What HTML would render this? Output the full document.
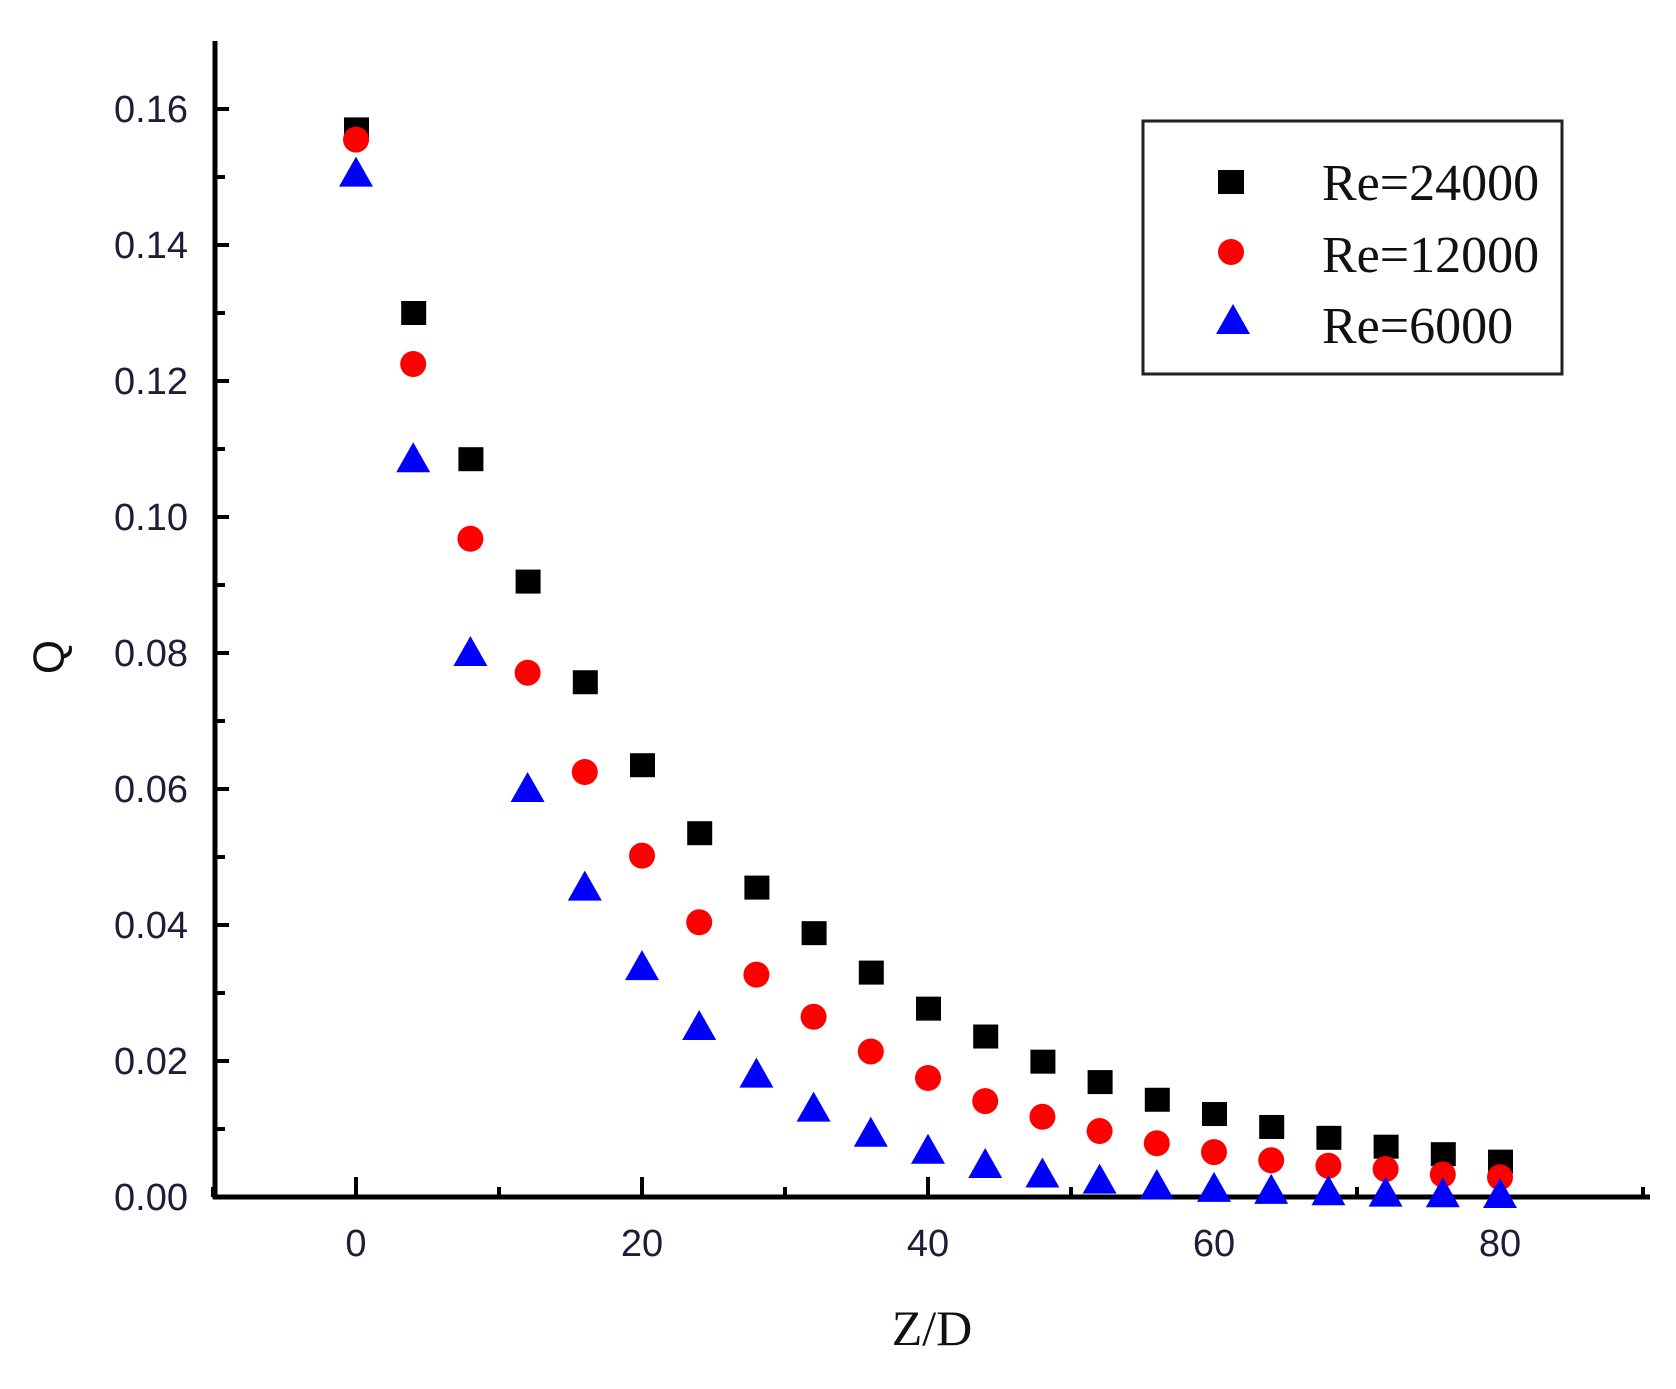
<!DOCTYPE html><html><head><style>body{margin:0;background:#fff}</style></head><body>
<svg width="1676" height="1384" xmlns="http://www.w3.org/2000/svg">
<g stroke="#000" stroke-width="5" fill="none">
<line x1="215" y1="41" x2="215" y2="1199"/>
<line x1="213" y1="1197" x2="1650" y2="1197"/>
</g>
<g id="ticks" stroke="#000" stroke-width="4"></g>
<g id="pts"></g>
<g font-family="'Liberation Sans',sans-serif" font-size="38" fill="#1d1d3a" id="lbl"></g>
<text x="0" y="0" transform="translate(64,657) rotate(-90)" font-family="'Liberation Sans',sans-serif" font-size="44" text-anchor="middle" fill="#111">Q</text>
<text x="932" y="1345" font-family="'Liberation Serif',serif" font-size="50" text-anchor="middle" fill="#111">Z/D</text>
<rect x="1143" y="121" width="419" height="253" fill="none" stroke="#222" stroke-width="3"/>
<rect x="1218" y="170" width="26" height="24" fill="#000"/>
<circle cx="1231" cy="252" r="13" fill="#f00"/>
<polygon points="1233,304 1216,334 1250,334" fill="#00f"/>
<g font-family="'Liberation Serif',serif" font-size="52" fill="#111">
<text x="1322" y="200">Re=24000</text><text x="1322" y="272">Re=12000</text><text x="1322" y="343">Re=6000</text>
</g>
</svg>
<script>
const X=v=>356+v*14.3,Y=v=>1197-v*6800;
const NS="http://www.w3.org/2000/svg";
function el(p,t,a,txt){const e=document.createElementNS(NS,t);for(const k in a)e.setAttribute(k,a[k]);if(txt!==undefined)e.textContent=txt;p.appendChild(e);}
const tk=document.getElementById('ticks'),lb=document.getElementById('lbl'),pts=document.getElementById('pts');
for(let i=0;i<=17;i++){const y=Y(i*0.01);if(y<45)break;el(tk,'line',{x1:215,x2:i%2?225:229,y1:y,y2:y});if(i%2==0&&i<=16)el(lb,'text',{x:188,y:y+13,'text-anchor':'end'},(i*0.01).toFixed(2));}
for(let v=-10;v<=90;v+=10){const x=X(v);el(tk,'line',{x1:x,x2:x,y1:1197,y2:v%20==0?1177:1187});if(v%20==0&&v>=0&&v<=80)el(lb,'text',{x:x,y:1256,'text-anchor':'middle'},v);}
const b=[0.157,0.130,0.1085,0.0905,0.0757,0.0635,0.0535,0.0455,0.0388,0.033,0.0277,0.0236,0.0199,0.0169,0.0143,0.0122,0.0103,0.0087,0.0074,0.0063,0.0052];
const r=[0.1555,0.1225,0.0968,0.0771,0.0625,0.0502,0.0404,0.0327,0.0265,0.0214,0.0175,0.0141,0.0118,0.0097,0.0079,0.0066,0.0054,0.0046,0.0041,0.0033,0.0029];
const bl=[0.1505,0.1085,0.080,0.060,0.0455,0.0338,0.025,0.018,0.013,0.0093,0.0068,0.0047,0.0033,0.0024,0.0016,0.0012,0.0009,0.0007,0.0005,0.0004,0.0003];
for(let i=0;i<21;i++){const x=X(i*4);
el(pts,'rect',{x:x-12,y:Y(b[i])-12,width:25,height:24,fill:'#000'});
el(pts,'circle',{cx:x,cy:Y(r[i]),r:13,fill:'#f00'});
const y=Y(bl[i]);el(pts,'polygon',{points:`${x},${y-17} ${x-17},${y+13} ${x+17},${y+13}`,fill:'#00f'});}
</script>
</body></html>
